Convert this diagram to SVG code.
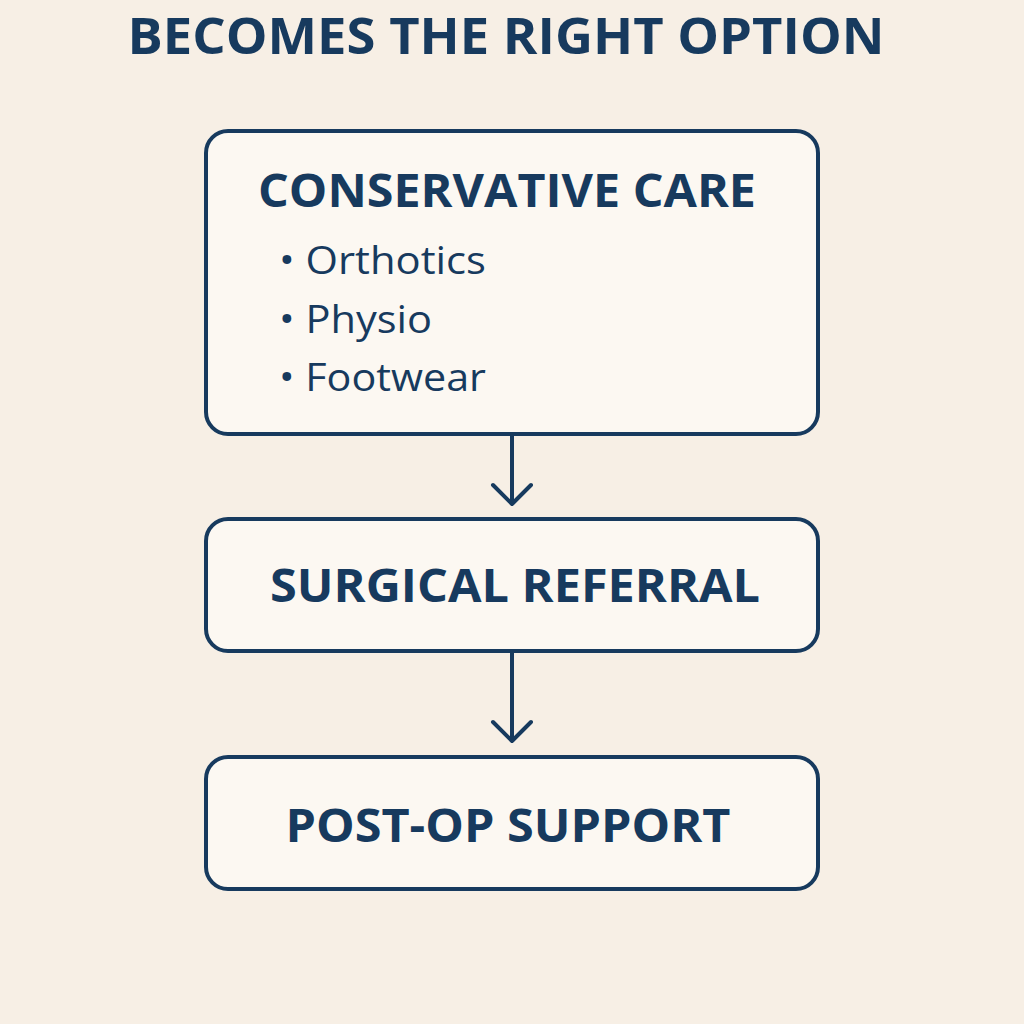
<svg xmlns="http://www.w3.org/2000/svg" width="1024" height="1024" viewBox="0 0 1024 1024">
<style>
.box{fill:#fcf8f2;stroke:#173a5e;stroke-width:4}
.t{font-family:"Open Sans","DejaVu Sans",sans-serif;font-weight:700;fill:#173a5e;text-anchor:middle}
.b{font-family:"Open Sans","DejaVu Sans",sans-serif;fill:#173a5e;font-size:39px}
.c{stroke:#173a5e;stroke-width:4;fill:none;stroke-linecap:round;stroke-linejoin:round}
</style>
<rect width="1024" height="1024" fill="#f7efe5"/>
<text class="t" x="506" y="54" font-size="50" textLength="757" lengthAdjust="spacingAndGlyphs">BECOMES THE RIGHT OPTION</text>
<g id="conservative">
<rect class="box" x="206" y="131" width="612" height="303" rx="22"/>
<text class="t" x="507" y="207" font-size="46" textLength="498" lengthAdjust="spacingAndGlyphs">CONSERVATIVE CARE</text>
<text class="b" x="279" y="274" textLength="207" lengthAdjust="spacingAndGlyphs">• Orthotics</text>
<text class="b" x="279" y="333" textLength="153" lengthAdjust="spacingAndGlyphs">• Physio</text>
<text class="b" x="279" y="391" textLength="207" lengthAdjust="spacingAndGlyphs">• Footwear</text>
</g>
<g id="surgical">
<rect class="box" x="206" y="519" width="612" height="132" rx="22"/>
<text class="t" x="515" y="602" font-size="46" textLength="490" lengthAdjust="spacingAndGlyphs">SURGICAL REFERRAL</text>
</g>
<g id="postop">
<rect class="box" x="206" y="757" width="612" height="132" rx="22"/>
<text class="t" x="508" y="842" font-size="46" textLength="445" lengthAdjust="spacingAndGlyphs">POST-OP SUPPORT</text>
</g>
<g id="connectors">
<path class="c" d="M512 436V504M493 485L512 504L531 485"/>
<path class="c" d="M512 653V741M493 722L512 741L531 722"/>
</g>
</svg>
